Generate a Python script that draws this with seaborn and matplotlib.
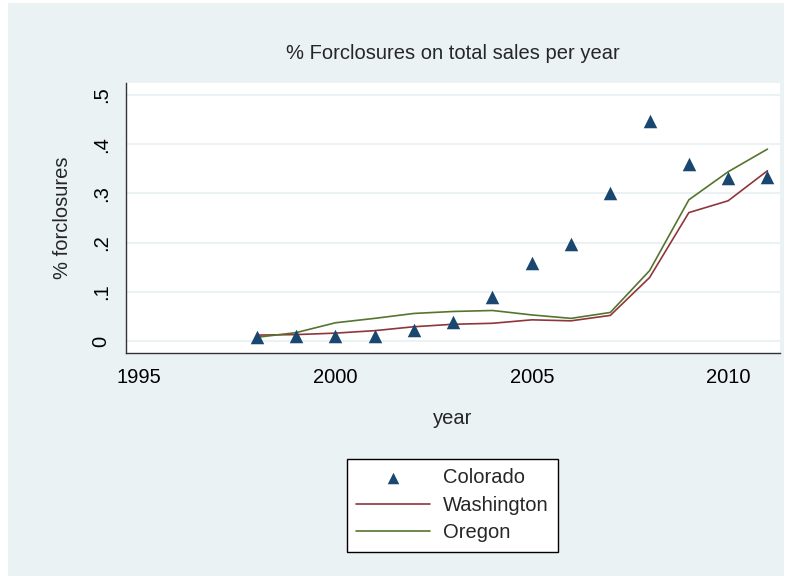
import numpy as np
import pandas as pd
import matplotlib
matplotlib.use("Agg")
import matplotlib.pyplot as plt
from matplotlib.patches import Rectangle
import seaborn as sns

# Share of foreclosures in total sales, by state and year
years = [1998, 1999, 2000, 2001, 2002, 2003, 2004, 2005, 2006, 2007, 2008, 2009, 2010, 2011]
colorado = [0.009, 0.010, 0.010, 0.010, 0.022, 0.039, 0.090, 0.158, 0.197, 0.301, 0.448, 0.359, 0.331, 0.334]
washington = [0.012, 0.013, 0.016, 0.021, 0.029, 0.034, 0.036, 0.043, 0.041, 0.052, 0.129, 0.261, 0.285, 0.346]
oregon = [0.0075, 0.017, 0.037, 0.046, 0.056, 0.060, 0.062, 0.053, 0.046, 0.058, 0.143, 0.287, 0.344, 0.390]

x_ticks = [1995, 2000, 2005, 2010]
y_ticks = [0, 0.1, 0.2, 0.3, 0.4, 0.5]
y_tick_labels = ["0", ".1", ".2", ".3", ".4", ".5"]

df = pd.DataFrame({"year": years, "Colorado": colorado,
                   "Washington": washington, "Oregon": oregon})

sns.set_style("white")
plt.rcParams["font.family"] = ["Liberation Sans", "DejaVu Sans"]

BG = "#eaf2f3"
NAVY = "#1a476f"
MAROON = "#90353b"
GREEN = "#55752f"
FS = 14.5

W, H = 787, 576
fig = plt.figure(figsize=(W / 100, H / 100), dpi=100, facecolor="white")
fig.patches.append(Rectangle((8 / W, 0), (784 - 8) / W, (576 - 3) / H,
                             transform=fig.transFigure, facecolor=BG,
                             edgecolor="none", zorder=-10))

ax = fig.add_axes([126 / W, (H - 353) / H, (780 - 126) / W, (353 - 83) / H])
ax.set_facecolor("white")

sns.scatterplot(data=df, x="year", y="Colorado", marker="^", color=NAVY,
                s=95, edgecolor=NAVY, linewidth=0, label="Colorado", ax=ax, zorder=3)
sns.lineplot(data=df, x="year", y="Washington", color=MAROON, linewidth=1.2,
             label="Washington", ax=ax, zorder=2)
sns.lineplot(data=df, x="year", y="Oregon", color=GREEN, linewidth=1.2,
             label="Oregon", ax=ax, zorder=2)

ax.set_xlim(1994.67, 2011.32)
ax.set_ylim(-0.0244, 0.5244)

ax.set_xticks(x_ticks)
ax.set_xticklabels([str(t) for t in x_ticks], fontsize=FS)
ax.set_yticks(y_ticks)
ax.set_yticklabels(y_tick_labels, fontsize=FS, rotation=90, va="center")

ax.grid(axis="y", color=BG, linewidth=1.5)
ax.grid(axis="x", visible=False)
ax.set_axisbelow(True)

for side in ["top", "right"]:
    ax.spines[side].set_visible(False)
for side in ["left", "bottom"]:
    ax.spines[side].set_color("#333333")
    ax.spines[side].set_linewidth(1.0)

ax.tick_params(axis="both", which="major", direction="out", length=6,
               width=1.0, color="#333333", labelcolor="black", pad=5)

ax.set_xlabel("year", fontsize=FS, labelpad=16)
ax.set_ylabel("% forclosures", fontsize=FS, labelpad=14)
ax.set_title("% Forclosures on total sales per year", fontsize=FS, pad=17)

handles, labels = ax.get_legend_handles_labels()
leg = ax.legend(handles, labels, loc="upper center",
                bbox_to_anchor=(452.5 / W, 1 - 459 / H), bbox_transform=fig.transFigure,
                frameon=True, fancybox=False, edgecolor="black", facecolor="white",
                fontsize=FS, handlelength=3.67, handletextpad=0.65,
                labelspacing=0.42, borderpad=0.47, markerscale=0.85,
                borderaxespad=0)
leg.get_frame().set_linewidth(1.0)
leg.get_frame().set_alpha(1)

fig.savefig("out.png", dpi=100, facecolor=fig.get_facecolor())
